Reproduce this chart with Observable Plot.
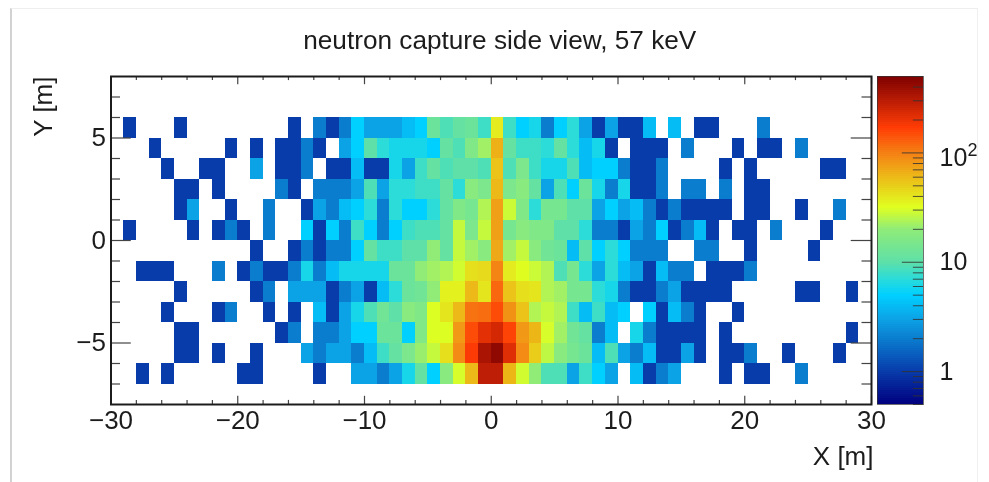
<!DOCTYPE html>
<html>
<head>
<meta charset="utf-8">
<script src="https://cdn.jsdelivr.net/npm/d3@7"></script>
<script src="https://cdn.jsdelivr.net/npm/@observablehq/plot@0.6"></script>
<style>
html,body{margin:0;padding:0;background:#fff;width:989px;height:482px;overflow:hidden}
#sheet{position:absolute;left:10px;top:8px;width:968px;height:480px;background:#fff;border-left:2px solid #d2d2d2;border-top:1px solid #eee;border-right:1px solid #f0f0f0;box-sizing:border-box}
#main,#bar{position:absolute;filter:blur(0.55px)}
#main{left:0;top:0}
#bar{left:877px;top:76px}
svg{overflow:visible;background:transparent!important}
</style>
</head>
<body>
<div id="sheet"></div>
<div id="main"></div>
<div id="bar"></div>
<script>
const titleText = "neutron capture side view, 57 keV";
const xLabel = "X [m]";
const yLabel = "Y [m]";
const firstColumn = -29;          // left edge of the first 1 m bin
const rowTops = [6,5,4,3,2,1,0,-1,-2,-3,-4,-5,-6]; // upper edge of each 1 m row

// counts per bin, columns -29 ... 28
const row6to5 = [1,0,0,0,1,0,0,0,0,0,0,0,0,1,0,2,1,2,5, 3,3,3,4,5,12,9,11,12,8,38,8,5,6,2,5,7,3,1,3,1, 1,4,0,4,0,1,1,0,0,0,2,0,0,0,0,0,0,0];
const row5to4 = [0,0,1,0,0,0,0,0,1,0,1,0,1,1,2,1,0,3,5, 10,7,6,6,6,5,11,9,16,22,65,11,8,8,7,11,7,4,6,1,0, 1,1,1,0,2,0,0,0,1,0,1,1,0,2,0,0,0,0];
const row4to3 = [0,0,0,1,0,0,1,1,0,0,3,0,1,1,2,0,1,1,4, 1,1,6,3,8,11,9,10,10,9,55,9,15,8,6,6,9,4,5,5,2, 1,1,2,0,0,0,0,1,0,1,0,0,0,0,0,1,1,0];
const row3to2 = [0,0,0,0,1,1,0,1,0,0,0,0,2,1,0,2,2,2,3, 9,3,7,7,8,8,11,7,18,15,60,15,18,11,3,9,5,12,6,2,6, 1,1,2,0,2,2,0,2,0,1,1,0,0,0,0,0,0,0];
const row2to1 = [0,0,0,0,1,3,0,0,1,0,0,2,0,0,1,3,2,4,5, 7,2,7,5,5,7,11,16,14,24,75,28,16,7,14,14,10,10,3,5,3, 4,2,1,2,1,1,1,1,0,1,1,0,0,1,0,0,2,0];
const row1to0 = [1,0,0,0,0,1,0,1,2,1,0,2,0,0,5,1,5,2,8, 5,2,5,8,9,9,11,27,15,27,75,14,18,16,16,10,10,7,2,2,1, 3,2,5,1,2,4,1,0,1,1,0,2,0,0,0,1,0,0];
const row0toM1 = [0,0,0,0,0,0,0,0,0,0,1,0,0,1,2,1,2,2,5, 11,8,8,10,10,20,11,27,22,18,70,22,27,18,13,12,4,10,5,7,5, 2,2,2,0,0,2,2,0,0,1,0,0,0,0,1,0,0,0];
const rowM1toM2 = [0,1,1,1,0,0,0,2,0,1,2,1,1,2,6,2,4,6,6, 6,6,12,12,20,22,24,29,42,45,95,38,32,28,24,9,14,7,3,7,4, 3,1,4,2,2,0,1,1,1,2,0,0,0,0,0,0,0,0];
const rowM2toM3 = [0,0,0,0,1,0,0,0,0,0,1,2,0,3,3,3,1,2,3, 1,4,7,12,13,20,36,36,60,40,120,55,42,40,24,22,14,14,7,6,2, 1,1,2,3,1,1,1,1,0,0,0,0,0,1,1,0,0,1];
const rowM3toM4 = [0,0,0,1,0,0,0,1,2,0,0,1,0,1,0,4,1,3,6, 9,13,10,18,16,31,40,60,110,115,150,85,55,24,27,24,8,4,8,4,5, 0,5,1,4,2,1,0,0,1,0,0,0,0,0,0,0,0,0];
const rowM4toM5 = [0,0,0,0,1,1,0,0,0,0,0,0,1,2,0,2,2,3,5, 5,12,12,5,16,31,31,80,150,210,240,160,80,62,30,22,13,11,2,4,0, 6,2,1,1,1,1,0,1,0,0,0,0,0,0,0,0,0,1];
const rowM5toM6 = [0,0,0,0,1,1,0,1,0,0,1,0,0,0,3,2,3,3,2, 4,8,11,15,21,27,42,90,175,340,430,220,90,50,26,18,14,12,4,9,3, 2,4,1,1,3,1,0,1,1,2,0,0,1,0,0,0,1,0];
const rowM6toM7 = [0,1,0,1,0,0,0,0,0,1,1,0,0,0,0,1,0,0,3, 3,2,3,6,11,5,18,30,60,290,290,62,29,20,9,9,3,8,5,3,0, 4,1,2,3,0,0,0,1,0,1,1,0,0,2,0,0,0,0];
const rows = [row6to5,row5to4,row4to3,row3to2,row2to1,row1to0,row0toM1,rowM1toM2,rowM2toM3,rowM3toM4,rowM4toM5,rowM5toM6,rowM6toM7];

const xMajor = [-30,-20,-10,0,10,20,30];
const xMinor = [-28,-26,-24,-22,-18,-16,-14,-12,-8,-6,-4,-2,2,4,6,8,12,14,16,18,22,24,26,28];
const yMajor = [-5,0,5];
const yMinor = [-7,-6,-4,-3,-2,-1,1,2,3,4,6,7];
const barMajor = [1,10,100];
const barMinor = [0.5,0.6,0.7,0.8,0.9,2,3,4,5,6,7,8,9,20,30,40,50,60,70,80,90,200,300,400,500];

// palette: position on the log colour axis, and colour
const paletteAt = [0,0.1,0.2,0.26,0.333,0.383,0.433,0.533,0.6,0.687,0.766,0.843,0.92,1];
const paletteColor = ["#00007f","#083cab","#0a7dcf","#0ca3e6","#00d0ff","#2cdcd8","#5ee0a8","#90ec78","#e0ff20","#ecbe18","#f58014","#ff3c05","#be1e05","#7d0000"];
const interpolator = d3.scaleLinear().domain(paletteAt).range(paletteColor).interpolate(d3.interpolateRgb);
const colorScale = {type:"log", domain:[0.5,500], interpolate:interpolator};

const cells = rows.flatMap((r,i) => r.map((v,j) => ({x:firstColumn+j, top:rowTops[i], v}))).filter(d => d.v > 0);
const minus = d => String(d).replace("-","\u2212");
const ink = "#1c1c1c";

const main = Plot.plot({
  width:989, height:482,
  marginLeft:110.5, marginRight:118, marginTop:76, marginBottom:78,
  style:{fontFamily:"Liberation Sans", background:"transparent", color:ink},
  x:{domain:[-30,30], label:null},
  y:{domain:[-8,8], label:null},
  color:colorScale,
  marks:[
    Plot.rect(cells,{x1:"x", x2:d=>d.x+1, y1:"top", y2:d=>d.top-1, fill:"v", shapeRendering:"crispEdges"}),
    Plot.ruleX(xMajor,{y1:-8,y2:-7.6,stroke:"#444",strokeWidth:1.2}),
    Plot.ruleX(xMajor,{y1:7.6,y2:8,stroke:"#444",strokeWidth:1.2}),
    Plot.ruleX(xMinor,{y1:-8,y2:-7.8,stroke:"#444",strokeWidth:1.2}),
    Plot.ruleX(xMinor,{y1:7.8,y2:8,stroke:"#444",strokeWidth:1.2}),
    Plot.ruleY(yMajor,{x1:-30,x2:-28.4,stroke:"#444",strokeWidth:1.2}),
    Plot.ruleY(yMajor,{x1:28.4,x2:30,stroke:"#444",strokeWidth:1.2}),
    Plot.ruleY(yMinor,{x1:-30,x2:-29.25,stroke:"#444",strokeWidth:1.2}),
    Plot.ruleY(yMinor,{x1:29.25,x2:30,stroke:"#444",strokeWidth:1.2}),
    Plot.frame({stroke:ink,strokeWidth:2}),
    Plot.axisX(xMajor,{anchor:"bottom",tickSize:0,tickPadding:6,fontSize:26,tickFormat:minus,label:null}),
    Plot.axisY(yMajor,{anchor:"left",tickSize:0,tickPadding:5,fontSize:26,tickFormat:minus,label:null}),
    Plot.text([titleText],{frameAnchor:"top",dx:8.5,dy:-36,lineAnchor:"middle",fontSize:26.2,fill:ink}),
    Plot.text([xLabel],{frameAnchor:"bottom-right",dx:2,dy:52,lineAnchor:"middle",textAnchor:"end",fontSize:26,fill:ink}),
    Plot.text([yLabel],{frameAnchor:"top-left",dx:-67,rotate:-90,textAnchor:"end",lineAnchor:"middle",fontSize:26,fill:ink})
  ]
});
document.getElementById("main").appendChild(main);

const barSteps = d3.range(164).map(i => ({lo:0.5*Math.pow(1000,i/164), hi:0.5*Math.pow(1000,(i+1)/164)}));
const bar = Plot.plot({
  width:110, height:328,
  marginLeft:0, marginRight:64, marginTop:0, marginBottom:0,
  style:{fontFamily:"Liberation Sans", background:"transparent", color:ink},
  x:{domain:[0,1], axis:null},
  y:{type:"log", domain:[0.5,500], axis:null},
  color:colorScale,
  marks:[
    Plot.rect(barSteps,{x1:0,x2:1,y1:"lo",y2:"hi",fill:d=>Math.sqrt(d.lo*d.hi),shapeRendering:"crispEdges"}),
    Plot.ruleY(barMajor,{x1:0.54,x2:1,stroke:"#333",strokeOpacity:0.85,strokeWidth:1}),
    Plot.ruleY(barMinor,{x1:0.78,x2:1,stroke:"#333",strokeOpacity:0.85,strokeWidth:1}),
    Plot.frame({stroke:"#333",strokeOpacity:0.7,strokeWidth:1}),
    Plot.text([1,10],{y:d=>d,text:d=>String(d),frameAnchor:"left",dx:62,textAnchor:"start",fontSize:25,fill:ink}),
    Plot.text([100],{y:d=>d,text:()=>"10",frameAnchor:"left",dx:62,dy:5,textAnchor:"start",fontSize:25,fill:ink}),
    Plot.text([100],{y:d=>d,text:()=>"2",frameAnchor:"left",dx:90,dy:-3,textAnchor:"start",fontSize:18,fill:ink})
  ]
});
document.getElementById("bar").appendChild(bar);
</script>
</body>
</html>
